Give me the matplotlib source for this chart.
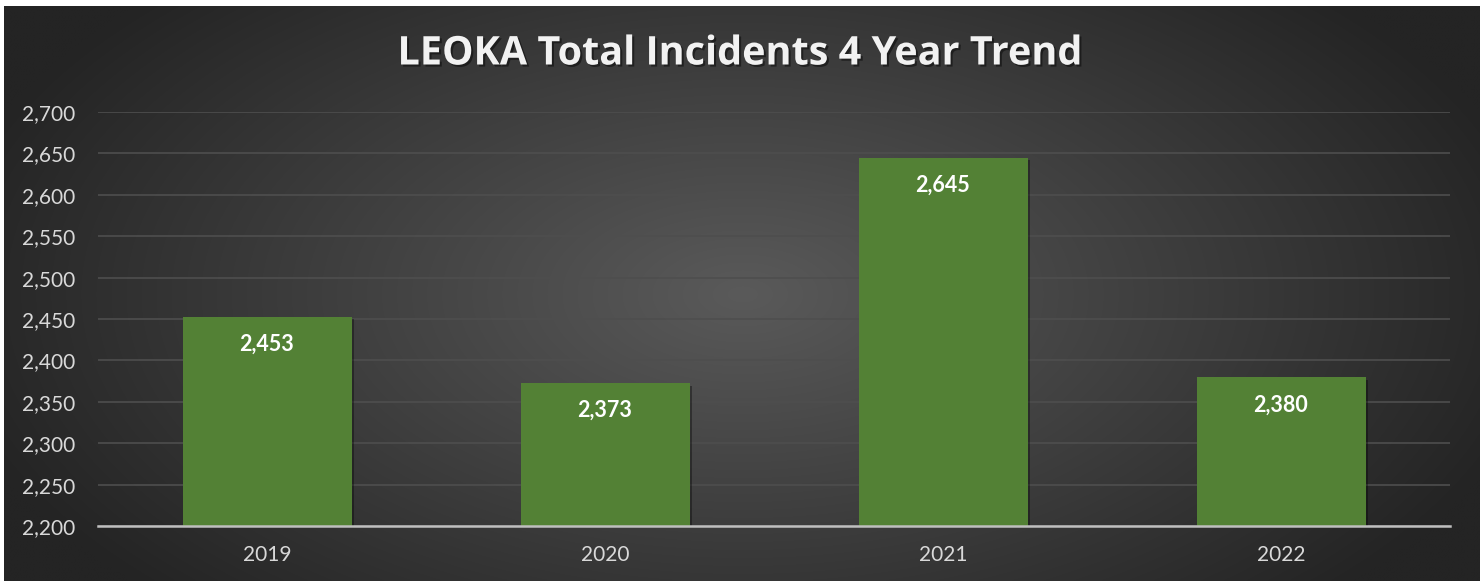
import numpy as np
import matplotlib.pyplot as plt
from matplotlib.ticker import FuncFormatter, MultipleLocator
import matplotlib.patheffects as pe

years = ["2019", "2020", "2021", "2022"]
incidents = [2453, 2373, 2645, 2380]
title = "LEOKA Total Incidents 4 Year Trend"

W, H = 1483, 587
fig = plt.figure(figsize=(W / 100, H / 100), dpi=100, facecolor="white")

# background panel with radial gradient
bx0, by0, bx1, by1 = 4, 6, 1480, 581
bg = fig.add_axes([bx0 / W, 1 - by1 / H, (bx1 - bx0) / W, (by1 - by0) / H])
bg.set_axis_off()
ny, nx = 300, 800
yy, xx = np.mgrid[0:ny, 0:nx]
cx, cy = nx * 0.5, ny * 0.5
r = np.sqrt(((xx - cx) / (nx * 0.55)) ** 2 + ((yy - cy) / (ny * 0.75)) ** 2)
r = np.clip(r, 0, 1)
c_in = np.array([0x5a, 0x5a, 0x5a]) / 255
c_out = np.array([0x24, 0x24, 0x24]) / 255
img = c_in[None, None, :] * (1 - r[..., None]) + c_out[None, None, :] * r[..., None]
bg.imshow(img, aspect="auto", extent=[0, 1, 0, 1], interpolation="bilinear")
bg.set_xlim(0, 1)
bg.set_ylim(0, 1)

# plot area
px0, px1, py0, py1 = 98, 1450, 112, 526
ax = fig.add_axes([px0 / W, 1 - py1 / H, (px1 - px0) / W, (py1 - py0) / H])
ax.patch.set_alpha(0)
x = np.arange(len(years))
bars = ax.bar(x, incidents, width=0.5, color="#538135", zorder=3,
              path_effects=[pe.SimplePatchShadow(offset=(2, -2), shadow_rgbFace="black", alpha=0.35), pe.Normal()])
ax.set_xlim(-0.5, len(years) - 0.5)
ax.set_ylim(2200, 2700)
ax.yaxis.set_major_locator(MultipleLocator(50))
ax.yaxis.set_major_formatter(FuncFormatter(lambda v, p: f"{int(v):,}"))
ax.grid(axis="y", color="#4e4e4e", linewidth=1.2, zorder=0)
ax.set_axisbelow(True)
for s in ["top", "right", "left"]:
    ax.spines[s].set_visible(False)
ax.spines["bottom"].set_color("#bfbfbf")
ax.spines["bottom"].set_linewidth(1.8)
ax.spines["bottom"].set_zorder(4)
ax.set_xticks(x)
ax.set_xticklabels(years)
ax.tick_params(axis="both", length=0, colors="#d9d9d9", labelsize=15)
ax.tick_params(axis="y", pad=16.5)
ax.tick_params(axis="x", pad=14)
for lbl in ax.get_xticklabels() + ax.get_yticklabels():
    lbl.set_fontfamily("Lato")

for xi, v in zip(x, incidents):
    ax.annotate(f"{v:,}", (xi, v), xytext=(0, -20), textcoords="offset points",
                ha="center", va="center", color="white", fontsize=15.5,
                fontweight="bold", fontfamily="Lato", zorder=5)

fig.text(740 / W, 1 - 54 / H, title, ha="center", va="center",
         color="#f2f2f2", fontsize=28.5, fontweight="bold", fontfamily="Open Sans",
         path_effects=[pe.withSimplePatchShadow(offset=(1.5, -1.5), shadow_rgbFace="black", alpha=0.45)])

fig.savefig("out.png", dpi=100, facecolor="white")
